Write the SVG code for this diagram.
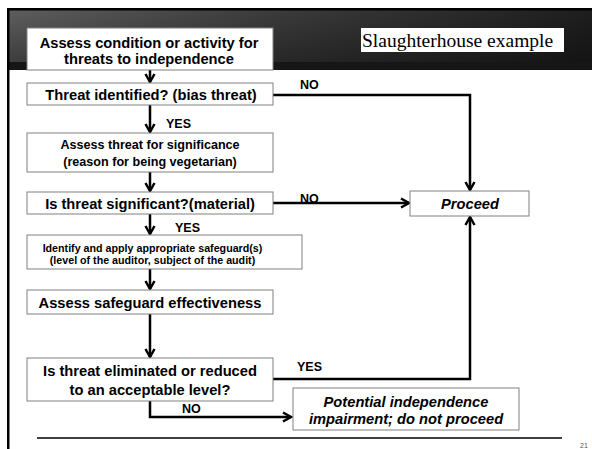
<svg xmlns="http://www.w3.org/2000/svg" width="592" height="449" viewBox="0 0 592 449">
<defs>
<linearGradient id="hg" x1="0" y1="0" x2="1" y2="0">
<stop offset="0" stop-color="#5e5e5e"/>
<stop offset="0.45" stop-color="#3c3c3c"/>
<stop offset="1" stop-color="#1e1e1e"/>
</linearGradient>
<linearGradient id="hv" x1="0" y1="0" x2="0" y2="1">
<stop offset="0" stop-color="#000" stop-opacity="0"/>
<stop offset="1" stop-color="#000" stop-opacity="0.35"/>
</linearGradient>
<marker id="ah" markerUnits="userSpaceOnUse" viewBox="0 0 14 14" markerWidth="14" markerHeight="14" refX="11" refY="7" orient="auto">
<path d="M3,2.5 L11,7 L3,11.5" fill="none" stroke="#000" stroke-width="2.5"/>
</marker>
<style>
.box{fill:#fff;stroke:#808080;stroke-width:1}
.t{font-family:"Liberation Sans",Arial,sans-serif;font-weight:bold;fill:#000;text-anchor:middle}
.b{font-size:14.7px}
.m{font-size:12.6px}
.s{font-size:10.7px}
.i{font-style:italic}
.lbl{font-family:"Liberation Sans",Arial,sans-serif;font-weight:bold;font-size:12.5px;fill:#000}
.c{fill:none;stroke:#000;stroke-width:2.5}
.ca{fill:none;stroke:#000;stroke-width:2.5;marker-end:url(#ah)}
</style>
</defs>
<rect width="592" height="449" fill="#fff"/>
<g id="header">
<rect x="8" y="10" width="584" height="52" fill="url(#hg)"/>
<rect x="8" y="10" width="584" height="52" fill="url(#hv)"/>
<rect x="8" y="62" width="584" height="8" fill="#161616"/>
<rect x="7" y="8" width="585" height="2.5" fill="#000"/>
<rect x="7" y="8" width="2.5" height="441" fill="#000"/>
</g>
<g id="title">
<rect x="361" y="28" width="203" height="24" fill="#fff"/>
<text x="362" y="47" font-family="'Liberation Serif','Times New Roman',serif" font-size="19.5" fill="#000">Slaughterhouse example</text>
</g>
<g id="connectors">
<line class="ca" x1="150" y1="70" x2="150" y2="82"/>
<line class="ca" x1="150" y1="105" x2="150" y2="132"/>
<line class="ca" x1="150" y1="172" x2="150" y2="191"/>
<line class="ca" x1="150" y1="214" x2="150" y2="234"/>
<line class="ca" x1="150" y1="269" x2="150" y2="289"/>
<line class="ca" x1="150" y1="314" x2="150" y2="357"/>
<polyline class="ca" points="273,95 470,95 470,190"/>
<line class="ca" x1="273" y1="203" x2="409" y2="203"/>
<polyline class="ca" points="273,379 470,379 470,217"/>
<polyline class="ca" points="150,401 150,417 291,417"/>
<text class="lbl" x="300" y="89">NO</text>
<text class="lbl" x="166" y="128">YES</text>
<text class="lbl" x="300" y="202.5">NO</text>
<text class="lbl" x="175" y="232">YES</text>
<text class="lbl" x="297" y="371">YES</text>
<text class="lbl" x="182" y="413">NO</text>
</g>
<g id="n1">
<rect class="box" x="27" y="28" width="246" height="42"/>
<text class="t b" x="149" y="48">Assess condition or activity for</text>
<text class="t b" x="149" y="64">threats to independence</text>
</g>
<g id="n2">
<rect class="box" x="27" y="83" width="246" height="22"/>
<text class="t b" x="151" y="99.5">Threat identified? (bias threat)</text>
</g>
<g id="n3">
<rect class="box" x="27" y="133" width="246" height="39"/>
<text class="t m" x="150" y="148.5">Assess threat for significance</text>
<text class="t m" x="150" y="166">(reason for being vegetarian)</text>
</g>
<g id="n4">
<rect class="box" x="27" y="192" width="246" height="22"/>
<text class="t b" x="150" y="208.5">Is threat significant?(material)</text>
</g>
<g id="n5">
<rect class="box" x="27" y="235" width="275" height="34"/>
<text class="t s" x="152.5" y="252">Identify and apply appropriate safeguard(s)</text>
<text class="t s" x="152.5" y="264">(level of the auditor, subject of the audit)</text>
</g>
<g id="n6">
<rect class="box" x="27" y="290" width="246" height="24"/>
<text class="t b" x="150" y="307.5">Assess safeguard effectiveness</text>
</g>
<g id="n7">
<rect class="box" x="27" y="358" width="246" height="43"/>
<text class="t b" x="150" y="376">Is threat eliminated or reduced</text>
<text class="t b" x="150" y="395">to an acceptable level?</text>
</g>
<g id="proceed">
<rect class="box" x="410" y="191" width="119" height="25"/>
<text class="t b i" x="470" y="208.5">Proceed</text>
</g>
<g id="impairment">
<rect class="box" x="293" y="388" width="226" height="42"/>
<text class="t b i" x="406" y="406.5">Potential independence</text>
<text class="t b i" x="406" y="423.5">impairment; do not proceed</text>
</g>
<g id="footer">
<line x1="37" y1="438" x2="562" y2="438" stroke="#000" stroke-width="1.5"/>
<text x="580" y="448" font-family="'Liberation Sans',Arial,sans-serif" font-size="7" fill="#555">21</text>
</g>
</svg>
